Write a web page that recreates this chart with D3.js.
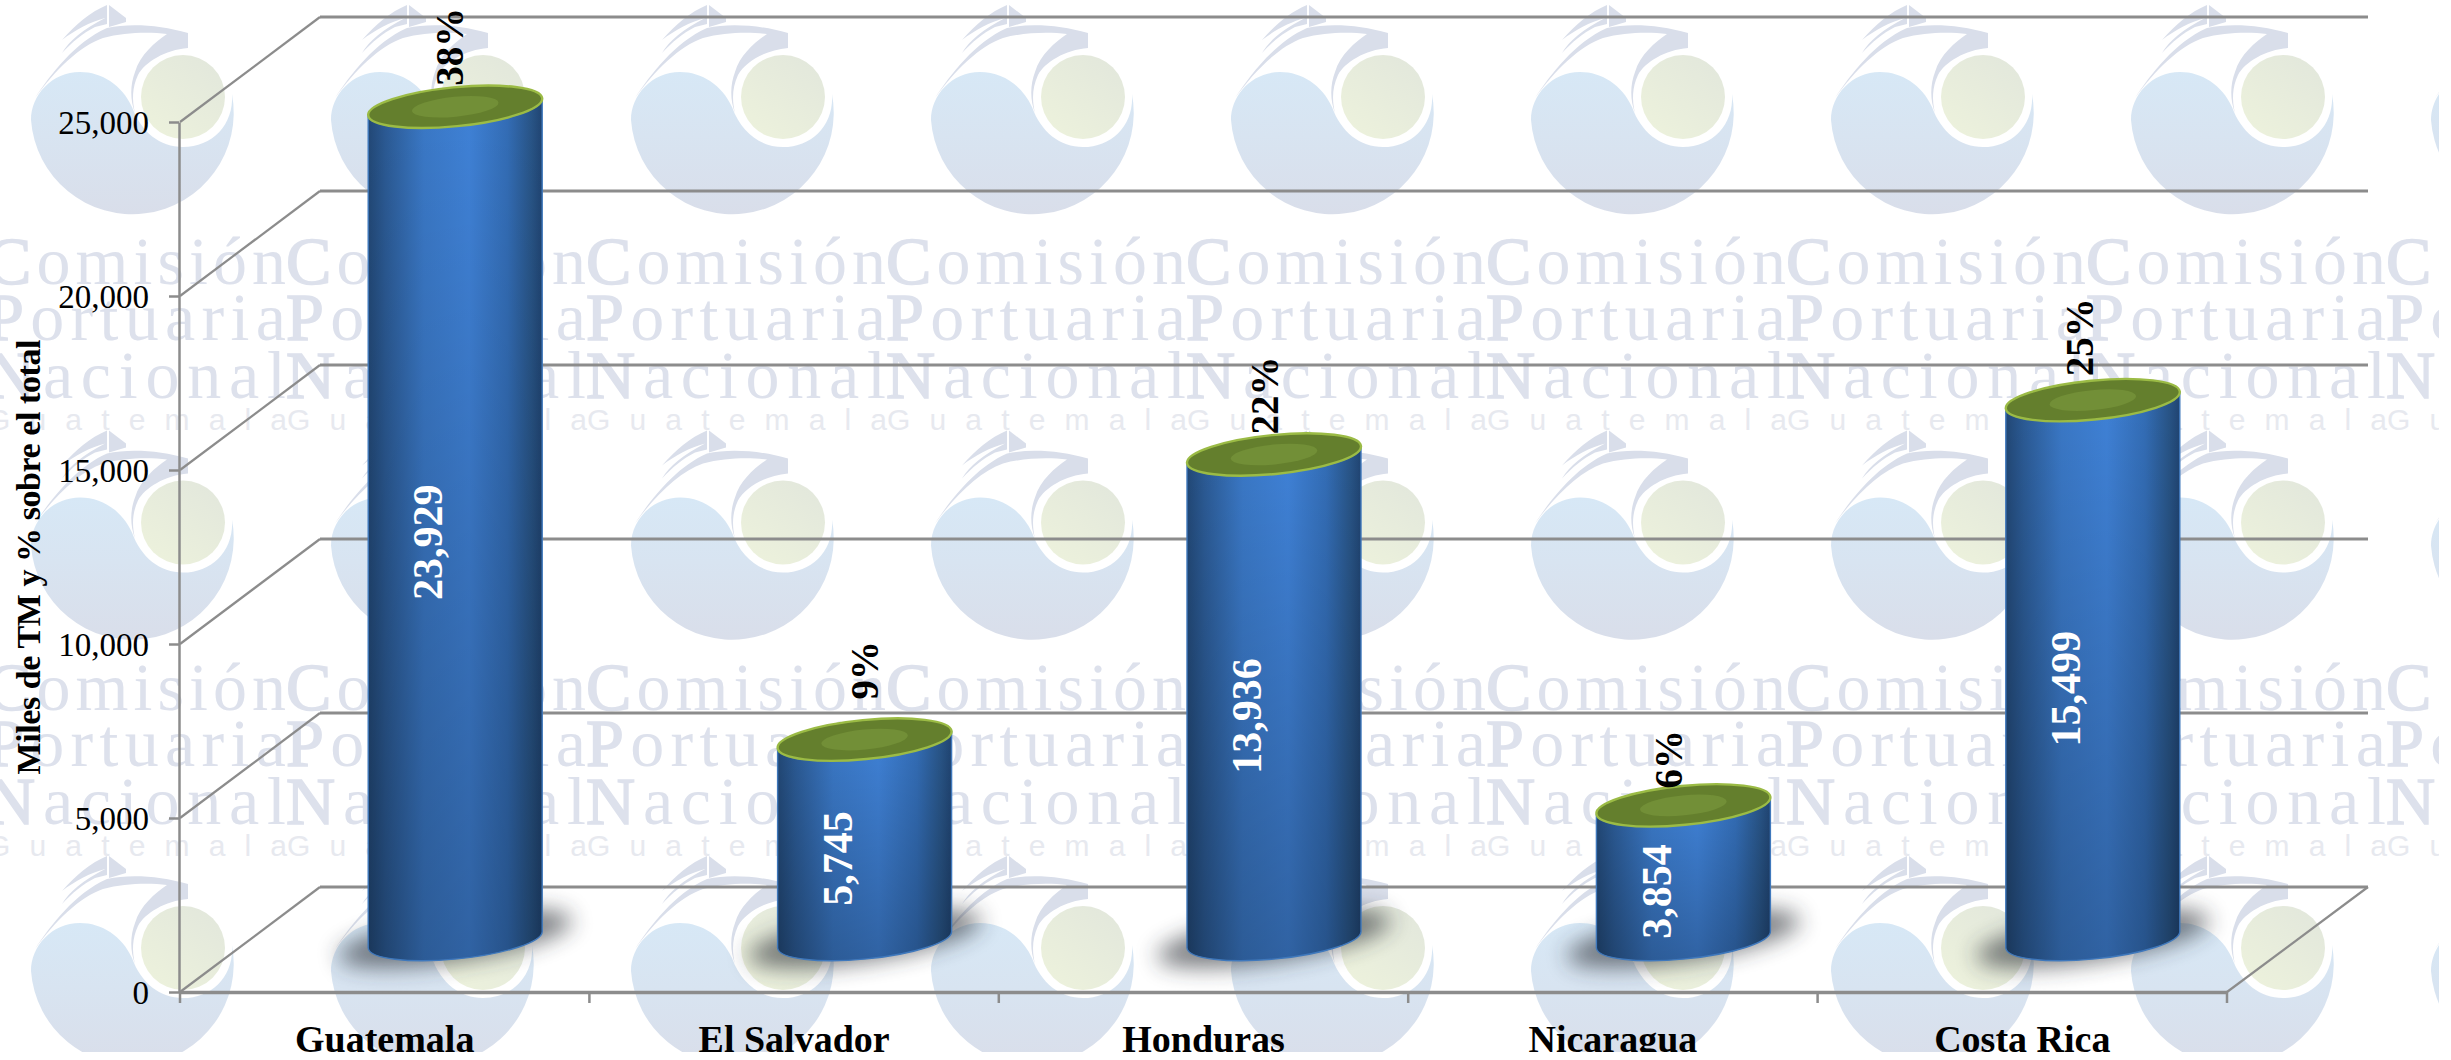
<!DOCTYPE html>
<html><head><meta charset="utf-8">
<script src="https://cdnjs.cloudflare.com/ajax/libs/d3/7.8.5/d3.min.js"></script>
<style>
html,body{margin:0;padding:0;background:#fff;overflow:hidden}
svg{display:block}
text{font-family:"Liberation Serif",serif}
</style></head><body>
<svg id="c" width="2451" height="1060"></svg>
<script>
const categories = ["Guatemala","El Salvador","Honduras","Nicaragua","Costa Rica"];
const tonnes = [23929,5745,13936,3854,15499];
const shares = ["38%","9%","22%","6%","25%"];
const yTicks = [0,5000,10000,15000,20000,25000];
const yTitle = "Miles de TM y % sobre el total";
const watermarkWords = ["Comisión","Portuaria","Nacional","Guatemala"];

const W=2439,H=1052;
const svg=d3.select("#c");
const defs=svg.append("defs");
defs.append("clipPath").attr("id","page").append("rect").attr("width",W).attr("height",H);
const grad=(id,dir,stops)=>{const g=defs.append("linearGradient").attr("id",id)
  .attr("x1",dir[0]).attr("y1",dir[1]).attr("x2",dir[2]).attr("y2",dir[3]);
  stops.forEach(s=>g.append("stop").attr("offset",s[0]).attr("stop-color",s[1]).attr("stop-opacity",s[2]===undefined?1:s[2]));};
grad("logoBlue",[0,0,0,1],[[0,"#d7e8f6"],[.45,"#d8e4f1"],[1,"#d9deea"]]);
grad("logoGreen",[.9,0,.1,1],[[0,"#e2e7dc"],[1,"#edf2dc"]]);
grad("barH",[0,0,1,0],[[0,"#224876"],[.1,"#2b5a94"],[.32,"#3a78c6"],[.58,"#3f81d6"],[.8,"#336db6"],[.94,"#285486"],[1,"#204472"]]);
grad("barV",[0,0,0,1],[[0,"#000",0],[1,"#000",.24]]);
defs.append("filter").attr("id","blur").attr("x","-30%").attr("y","-80%").attr("width","160%").attr("height","260%")
  .append("feGaussianBlur").attr("stdDeviation",11);

const root=svg.append("g").attr("clip-path","url(#page)");

/* watermark tiles */
const tile=defs.append("g").attr("id","logoTile");
tile.append("path").attr("fill","url(#logoBlue)")
  .attr("d","M31,120 A101.5,101.5 0 1 0 232,94 C234,125 212,147 183,147 C160,147 141,132 132,107 C122,85 102,72 80,72 C52,72 31,95 31,120 Z");
tile.append("circle").attr("cx",183).attr("cy",97).attr("r",42).attr("fill","url(#logoGreen)");
tile.append("path").attr("fill","#d9deea")
  .attr("d","M35,98 C50,75 75,42 107,28 C130,23 160,25 188,33 L188,48 C165,50 145,62 138,75 C132,88 132,100 135,113 C130,100 130,85 135,72 C140,55 155,42 167,34 C150,32 125,32 103,38 C80,46 55,70 35,98 Z");
tile.append("path").attr("fill","#d9deea")
  .attr("d","M62,40 C75,25 90,12 107,5 L107,24 L95,27 C83,33 72,42 62,53 C70,40 82,30 105,18 C90,22 75,30 62,40 Z");
tile.append("path").attr("fill","#d9deea").attr("d","M109,5 L126,18 L126,22 L109,27 Z");

const wm=root.append("g");
const tileW=300,tileH=425.5;
const cols=d3.range(-1,9),rows=d3.range(0,3);
wm.selectAll("use").data(d3.cross(cols,rows)).join("use").attr("href","#logoTile")
  .attr("transform",d=>`translate(${d[0]*tileW},${d[1]*tileH})`);
const wordStyle=[{b:284,s:68,f:"#dde1ec",x:-14},{b:340,s:68,f:"#dde1ec",x:-14},{b:398,s:68,f:"#dde1ec",x:-14},{b:430,s:30,f:"#e7e9ef",x:-13,sans:1}];
d3.cross(cols,[0,1]).forEach(([c,r])=>{
  watermarkWords.forEach((w,i)=>{const st=wordStyle[i];
    const t=wm.append("text").attr("x",c*tileW+st.x).attr("y",st.b+r*tileH)
      .attr("font-size",st.s).attr("fill",st.f)
      .style("font-family",st.sans?'"Liberation Sans",sans-serif':null)
      .attr("textLength",tileW).attr("lengthAdjust","spacing");
    const first=t.append("tspan").text(w[0]);
    if(!st.sans) first.attr("stroke",st.f).attr("stroke-width",1.6);
    t.append("tspan").text(w.slice(1));
  });
});

/* scales */
const x0=180,x1=2227,y0=992,yTop=122,depthX=140,depthY=105;
const x=d3.scaleBand().domain(categories).range([x0,x1]);
const y=d3.scaleLinear().domain([0,25000]).range([y0,yTop]);
const gridC="#8c8c8c";

/* walls */
const grid=root.append("g").attr("stroke",gridC).attr("fill","none");
grid.selectAll("line.h").data(yTicks).join("line").attr("class","h")
  .attr("x1",x0+depthX).attr("x2",x1+depthX+1).attr("y1",d=>y(d)-depthY).attr("y2",d=>y(d)-depthY).attr("stroke-width",3);
grid.selectAll("line.d").data(yTicks).join("line").attr("class","d")
  .attr("x1",x0).attr("x2",x0+depthX).attr("y1",d=>y(d)).attr("y2",d=>y(d)-depthY).attr("stroke-width",2.2);
grid.append("line").attr("x1",x1).attr("y1",y0).attr("x2",x1+depthX+1).attr("y2",y0-depthY).attr("stroke-width",2.2);

/* axes */
const yAxis=root.append("g").attr("transform",`translate(${x0-1},0)`)
  .call(d3.axisLeft(y).tickValues(yTicks).tickFormat(d3.format(",")).tickSize(10).tickSizeOuter(0).tickPadding(20));
yAxis.selectAll("path,line").attr("stroke",gridC).attr("stroke-width",2.5);
yAxis.selectAll("text").attr("font-size",33).attr("fill","#000").style("font-family",'"Liberation Serif",serif').attr("dy","0.36em");

const xAxis=root.append("g").attr("transform",`translate(0,${y0})`)
  .call(d3.axisBottom(x).tickSize(0).tickPadding(33));
xAxis.select("path").attr("stroke",gridC).attr("stroke-width",3.5);
xAxis.selectAll("text").attr("font-size",38).attr("font-weight","bold").attr("fill","#000").style("font-family",'"Liberation Serif",serif');
root.append("g").selectAll("line").data(d3.range(0,categories.length+1)).join("line")
  .attr("x1",i=>x0+i*x.step()).attr("x2",i=>x0+i*x.step()).attr("y1",y0).attr("y2",y0+11)
  .attr("stroke",gridC).attr("stroke-width",2.5);

root.append("text").text(yTitle)
  .attr("transform","translate(40,557) rotate(-90)").attr("text-anchor","middle")
  .attr("font-size",34).attr("font-weight","bold").attr("fill","#000")
  .attr("textLength",435).attr("lengthAdjust","spacing");

/* cylinders */
const rx=87.4,ry=19.5,tilt=-5.6,dxE=87,dyE=8.5;
const cx=c=>x(c)+x.bandwidth()/2+depthX/2+.5;
const baseY=y(0)-depthY/2;
const topY=v=>y(v)-depthY/2;
const pctNudgeX=[-5,0,-9,-15,-13],pctGap=[21,40,20,17,24];

const rowsData=categories.map((c,i)=>({c,i,v:tonnes[i],s:shares[i]}));
const marks=root.append("g");
marks.selectAll("ellipse.sh").data(rowsData).join("ellipse").attr("class","sh")
  .attr("rx",118).attr("ry",23).attr("fill","#2a2f36").attr("opacity",.62).attr("filter","url(#blur)")
  .attr("transform",d=>`translate(${cx(d.c)},${baseY-1}) rotate(-9)`);
const body=d=>{const X=cx(d.c),T=topY(d.v);
  return `M${X-dxE},${T+dyE} L${X-dxE},${baseY+dyE} A${rx},${ry} ${tilt} 0 0 ${X+dxE},${baseY-dyE} L${X+dxE},${T-dyE} A${rx},${ry} ${tilt} 0 1 ${X-dxE},${T+dyE} Z`;};
marks.selectAll("path.b").data(rowsData).join("path").attr("class","b").attr("d",body)
  .attr("fill","url(#barH)");
marks.selectAll("path.v").data(rowsData).join("path").attr("class","v").attr("d",body)
  .attr("fill","url(#barV)").attr("stroke","#3f78bc").attr("stroke-width",1.4);
marks.selectAll("ellipse.t").data(rowsData).join("ellipse").attr("class","t")
  .attr("rx",rx).attr("ry",ry).attr("fill","#647f2d").attr("stroke","#9bbb45").attr("stroke-width",2.4)
  .attr("transform",d=>`translate(${cx(d.c)},${topY(d.v)}) rotate(${tilt})`);
marks.selectAll("ellipse.i").data(rowsData).join("ellipse").attr("class","i")
  .attr("rx",43.5).attr("ry",10).attr("fill","#728f37")
  .attr("transform",d=>`translate(${cx(d.c)},${topY(d.v)}) rotate(${tilt})`);

/* labels */
marks.selectAll("text.val").data(rowsData).join("text").attr("class","val")
  .text(d=>d3.format(",")(d.v)).attr("text-anchor","middle").attr("dy","0.34em")
  .attr("font-size",42).attr("font-weight","bold").attr("fill","#fff")
  .attr("transform",d=>`translate(${cx(d.c)-27},${(topY(d.v)+baseY)/2+19}) rotate(-90)`);
marks.selectAll("text.pct").data(rowsData).join("text").attr("class","pct")
  .text(d=>d.s).attr("text-anchor","start").attr("dy","0.34em")
  .attr("font-size",39).attr("font-weight","bold").attr("fill","#000")
  .attr("transform",d=>`translate(${cx(d.c)+pctNudgeX[d.i]},${topY(d.v)-pctGap[d.i]}) rotate(-90)`);
</script>
</body></html>
